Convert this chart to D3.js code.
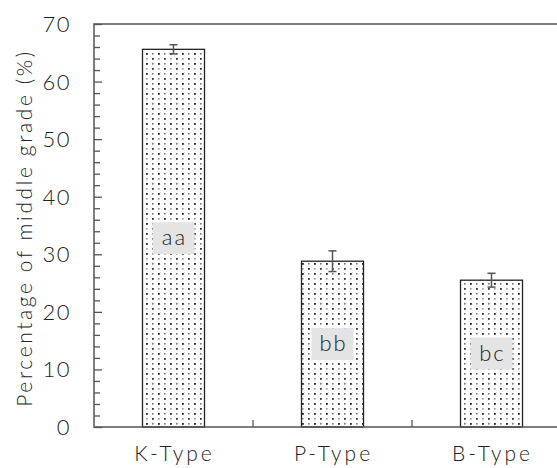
<!DOCTYPE html>
<html>
<head>
<meta charset="utf-8">
<script src="https://cdn.jsdelivr.net/npm/d3@7"></script>
<style>
  body { margin: 0; background: #fff; }
  text { font-family: Lato, 'Open Sans', sans-serif; font-weight: 300; fill: #222; }
</style>
</head>
<body>
<div id="chart"></div>
<script>
// data
const categories = ['K-Type', 'P-Type', 'B-Type']
const values = [65.6, 28.8, 25.5]
const errors = [0.8, 1.8, 1.2]
const letters = ['aa', 'bb', 'bc']
const yTicks = [0, 10, 20, 30, 40, 50, 60, 70]

const width = 557,
  height = 468,
  margin = { top: 24, right: -14, bottom: 41, left: 94 }

const svg = d3
  .select('#chart')
  .append('svg')
  .attr('width', width)
  .attr('height', height)

const x = d3
  .scaleBand()
  .domain(categories)
  .range([margin.left, width - margin.right])

const y = d3
  .scaleLinear()
  .domain([0, 70])
  .range([height - margin.bottom, margin.top])

const barW = 62

// dotted fill
const pat = svg
  .append('defs')
  .append('pattern')
  .attr('id', 'dots')
  .attr('patternUnits', 'userSpaceOnUse')
  .attr('x', 145)
  .attr('y', 2)
  .attr('width', 12)
  .attr('height', 10)
pat.append('rect').attr('width', 12).attr('height', 10).attr('fill', '#fff')
const dots = [
  [1, 1, 1.8, '#222'],
  [7, 1, 1.6, '#777'],
  [1, 6, 1.6, '#999'],
  [7, 6, 1.8, '#333']
]
dots.forEach(d => {
  pat
    .append('rect')
    .attr('x', d[0])
    .attr('y', d[1])
    .attr('width', d[2])
    .attr('height', d[2])
    .attr('fill', d[3])
})

// bars
svg
  .selectAll('.bar')
  .data(categories)
  .enter()
  .append('rect')
  .attr('class', 'bar')
  .attr('x', (d, i) => x(d) + x.bandwidth() / 2 - barW / 2)
  .attr('y', (d, i) => y(values[i]))
  .attr('width', barW)
  .attr('height', (d, i) => y(0) - y(values[i]))
  .attr('fill', 'url(#dots)')
  .attr('stroke', '#222')
  .attr('stroke-width', 1.3)

// error bars
categories.forEach((c, i) => {
  const cx = x(c) + x.bandwidth() / 2
  const g = svg.append('g').attr('stroke', '#555').attr('stroke-width', 1.5)
  g.append('line')
    .attr('x1', cx).attr('x2', cx)
    .attr('y1', y(values[i] + errors[i])).attr('y2', y(values[i] - errors[i]))
  ;[values[i] + errors[i], values[i] - errors[i]].forEach(v => {
    g.append('line')
      .attr('x1', cx - 4).attr('x2', cx + 4)
      .attr('y1', y(v)).attr('y2', y(v))
  })
})

// letter labels
categories.forEach((c, i) => {
  const cx = x(c) + x.bandwidth() / 2
  const cy = y(values[i] / 2)
  svg.append('rect')
    .attr('x', cx - 21).attr('y', cy - 16)
    .attr('width', 42).attr('height', 32)
    .attr('fill', '#e4e4e4')
  svg.append('text')
    .attr('x', cx + 1).attr('y', cy + 7)
    .attr('text-anchor', 'middle')
    .attr('font-size', 22)
    .attr('letter-spacing', 2)
    .text(letters[i])
})

// frame
svg.append('rect')
  .attr('x', margin.left).attr('y', margin.top)
  .attr('width', x.range()[1] - margin.left)
  .attr('height', y(0) - margin.top)
  .attr('fill', 'none')
  .attr('stroke', '#555')
  .attr('stroke-width', 1.5)

// y axis: minor ticks every 2, major every 10, pointing inward
svg.append('g')
  .attr('transform', 'translate(' + margin.left + ',0)')
  .call(d3.axisRight(y).tickValues(d3.range(0, 71, 2)).tickSize(6).tickFormat(''))
  .call(g => g.select('.domain').remove())
  .call(g => g.selectAll('line').attr('stroke', '#555').attr('stroke-width', 1.3)
    .attr('x2', d => (d % 10 === 0 ? 8 : 6)))

yTicks.forEach(t => {
  svg.append('text')
    .attr('x', 71).attr('y', y(t) + 8)
    .attr('text-anchor', 'end')
    .attr('font-size', 22)
    .attr('letter-spacing', 1.5)
    .text(t)
})

// x axis: ticks between categories
categories.slice(1).forEach(c => {
  svg.append('line')
    .attr('x1', x(c)).attr('x2', x(c))
    .attr('y1', y(0)).attr('y2', y(0) - 7)
    .attr('stroke', '#555').attr('stroke-width', 1.3)
})
categories.forEach(c => {
  svg.append('text')
    .attr('x', x(c) + x.bandwidth() / 2 + 1)
    .attr('y', 461)
    .attr('text-anchor', 'middle')
    .attr('font-size', 21)
    .attr('letter-spacing', 3)
    .text(c)
})

svg.append('text')
  .attr('transform', 'translate(32,228) rotate(-90)')
  .attr('text-anchor', 'middle')
  .attr('font-size', 21)
  .attr('letter-spacing', 2.6)
  .text('Percentage of middle grade (%)')
</script>
</body>
</html>
